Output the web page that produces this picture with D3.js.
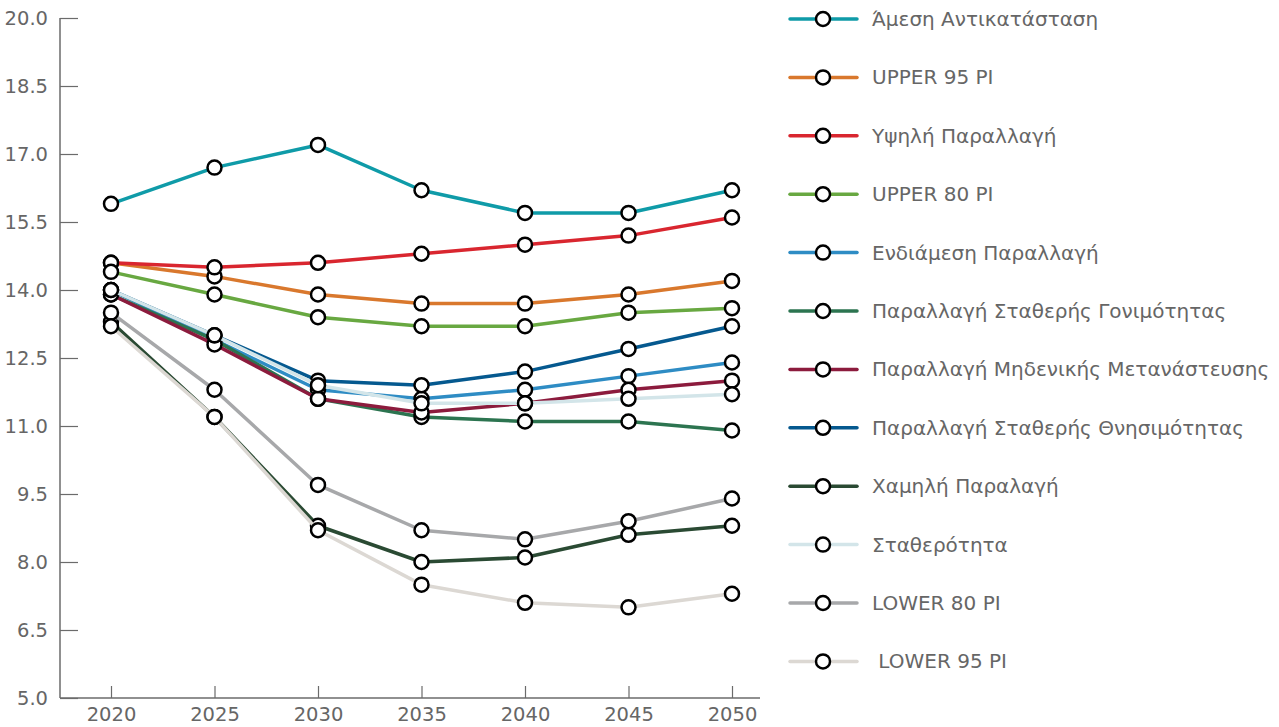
<!DOCTYPE html>
<html><head><meta charset="utf-8">
<script src="https://cdn.jsdelivr.net/npm/d3@7"></script>
<style>
body{margin:0;background:#fff;}
svg{display:block;font-family:"DejaVu Sans",sans-serif;}
</style></head>
<body><svg id="chart" width="1279" height="727"></svg>
<script>
const years = [2020, 2025, 2030, 2035, 2040, 2045, 2050];
const yTicks = [5.0, 6.5, 8.0, 9.5, 11.0, 12.5, 14.0, 15.5, 17.0, 18.5, 20.0];
const seriesNames = [
  "Άμεση Αντικατάσταση",
  "UPPER 95 PI",
  "Υψηλή Παραλλαγή",
  "UPPER 80 PI",
  "Ενδιάμεση Παραλλαγή",
  "Παραλλαγή Σταθερής Γονιμότητας",
  "Παραλλαγή Μηδενικής Μετανάστευσης",
  "Παραλλαγή Σταθερής Θνησιμότητας",
  "Χαμηλή Παραλαγή",
  "Σταθερότητα",
  "LOWER 80 PI",
  " LOWER 95 PI"
];
const seriesColors = ["#0f9ba8","#d9782d","#d9262f","#68a841","#2e8cc4","#2c7450","#8c1b3d","#05598f","#2a4a33","#d3e5e9","#a7a8aa","#dcd8d3"];
const amesi      = [15.9, 16.7, 17.2, 16.2, 15.7, 15.7, 16.2];
const upper95    = [14.6, 14.3, 13.9, 13.7, 13.7, 13.9, 14.2];
const ypsili     = [14.6, 14.5, 14.6, 14.8, 15.0, 15.2, 15.6];
const upper80    = [14.4, 13.9, 13.4, 13.2, 13.2, 13.5, 13.6];
const endiamesi  = [14.0, 12.9, 11.8, 11.6, 11.8, 12.1, 12.4];
const gonimotita = [13.9, 12.9, 11.6, 11.2, 11.1, 11.1, 10.9];
const metanastefsi = [13.9, 12.8, 11.6, 11.3, 11.5, 11.8, 12.0];
const thnisimotita = [14.0, 13.0, 12.0, 11.9, 12.2, 12.7, 13.2];
const chamili    = [13.3, 11.2, 8.8, 8.0, 8.1, 8.6, 8.8];
const statherotita = [14.0, 13.0, 11.9, 11.5, 11.5, 11.6, 11.7];
const lower80    = [13.5, 11.8, 9.7, 8.7, 8.5, 8.9, 9.4];
const lower95    = [13.2, 11.2, 8.7, 7.5, 7.1, 7.0, 7.3];
const seriesValues = [amesi, upper95, ypsili, upper80, endiamesi, gonimotita, metanastefsi, thnisimotita, chamili, statherotita, lower80, lower95];

const svg = d3.select("#chart");
const mLeft = 60, mRight = 760, mTop = 18, mBottom = 698;
const x = d3.scalePoint().domain(years).range([111, 732]);
const y = d3.scaleLinear().domain([5, 20]).range([mBottom, mTop]);
const axisColor = "#6b6b6b", textColor = "#666";

// y axis
const ya = svg.append("g").attr("transform", `translate(${mLeft},0)`)
  .call(d3.axisRight(y).tickValues(yTicks).tickSize(18).tickFormat(d3.format(".1f")));
ya.attr("font-family", null).attr("font-size", null);
ya.select(".domain").attr("stroke", axisColor).attr("stroke-width", 1.5).attr("d", `M0,${mTop}V${mBottom}`);
ya.selectAll(".tick line").attr("stroke", axisColor).attr("stroke-width", 1.2);
ya.selectAll(".tick text").attr("x", -12).attr("text-anchor", "end").attr("fill", textColor)
  .style("font-size", "19.5px").attr("dy", "0.35em");

// x axis
const xa = svg.append("g").attr("transform", `translate(0,${mBottom})`)
  .call(d3.axisTop(x).tickSize(12).tickFormat(d3.format("d")));
xa.attr("font-family", null).attr("font-size", null);
xa.select(".domain").attr("stroke", axisColor).attr("stroke-width", 1.5).attr("d", `M${mLeft},0H${mRight}`);
xa.selectAll(".tick line").attr("stroke", axisColor).attr("stroke-width", 1.2);
xa.selectAll(".tick text").attr("y", 9).attr("dy", "0.71em").attr("fill", textColor).style("font-size", "19.5px");

const line = d3.line().x((d, i) => x(years[i])).y(d => y(d));
seriesValues.forEach((vals, si) => {
  const g = svg.append("g");
  g.append("path").attr("d", line(vals)).attr("fill", "none")
    .attr("stroke", seriesColors[si]).attr("stroke-width", 3.5).attr("stroke-linejoin", "round");
  g.selectAll("circle").data(vals).join("circle")
    .attr("cx", (d, i) => x(years[i])).attr("cy", d => y(d)).attr("r", 7)
    .attr("fill", "#fff").attr("stroke", "#000").attr("stroke-width", 2.5);
});

// legend
const lg = svg.append("g");
seriesNames.forEach((name, i) => {
  const ly = 19 + i * 58.4;
  lg.append("line").attr("x1", 790).attr("x2", 857).attr("y1", ly).attr("y2", ly)
    .attr("stroke", seriesColors[i]).attr("stroke-width", 3.5).attr("stroke-linecap", "round");
  lg.append("circle").attr("cx", 823).attr("cy", ly).attr("r", 7)
    .attr("fill", "#fff").attr("stroke", "#000").attr("stroke-width", 2.5);
  lg.append("text").attr("x", 872).attr("y", ly).attr("dy", "0.35em")
    .attr("fill", textColor).style("font-size", "20px").style("white-space", "pre").text(name);
});
</script></body></html>
